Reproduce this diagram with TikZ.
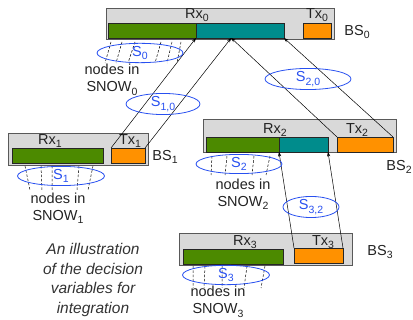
\documentclass[tikz,border=0pt]{standalone}
\usepackage{fontspec}
\setmainfont{Liberation Sans}
\usetikzlibrary{shapes.geometric,arrows.meta,calc}
\newcommand\sbs[1]{\raisebox{-0.45ex}{\fontsize{10.5}{10.5}\selectfont #1}}
\definecolor{rxgreen}{RGB}{76,138,0}
\definecolor{rxteal}{RGB}{0,140,140}
\definecolor{txorange}{RGB}{255,145,0}
\definecolor{varblue}{RGB}{40,80,240}
\definecolor{boxgrey}{RGB}{217,217,217}
\definecolor{labelgrey}{RGB}{34,34,34}
\begin{document}
\begin{tikzpicture}[x=1pt,y=-1pt,
  rect/.style={anchor=north west, inner sep=0pt, outer sep=0pt, line width=0.8pt},
  station/.style={rect, draw=black!65, fill=boxgrey},
  rxbar/.style={rect, draw=black!85, fill=rxgreen},
  rxbarb/.style={rect, draw=black!85, fill=rxteal},
  txbar/.style={rect, draw=black!85, fill=txorange},
  lbl/.style={inner sep=0pt, text=labelgrey, font=\fontsize{14.5}{14.5}\selectfont},
  var/.style={ellipse, draw=varblue, line width=0.8pt, inner sep=0pt, text=varblue,
    font=\fontsize{14.5}{14.5}\selectfont},
  snow/.style={inner sep=0pt, text=labelgrey, align=center, font=\fontsize{14.5}{17}\selectfont},
  link/.style={line width=0.5pt, -{Stealth[length=4.5pt,width=3.2pt]}},
  hatch/.style={line width=0.5pt, dash pattern=on 2.5pt off 1.8pt}
]
\useasboundingbox (0,0) rectangle (413,320);

% base station BS0
\node[station, minimum width=228, minimum height=31] (bs0) at (106,8) {};
\node[rxbar,  minimum width=88, minimum height=15] (g0) at (108,23) {};
\node[rxbarb, minimum width=88, minimum height=15] (t0) at (196,23) {};
\node[txbar,  minimum width=28, minimum height=15] (o0) at (303,23) {};
\node[lbl] (rx0) at (197,15) {Rx\sbs0};
\node[lbl] (tx0) at (317,15) {Tx\sbs0};
\node[lbl] (bsl0) at (357,32) {BS\sbs0};

% base station BS1
\node[station, minimum width=140, minimum height=32] (bs1) at (8,133) {};
\node[rxbar, minimum width=91, minimum height=15] (g1) at (12,148) {};
\node[txbar, minimum width=34, minimum height=15] (o1) at (111,148) {};
\node[lbl] (rx1) at (50,141) {Rx\sbs1};
\node[lbl] (tx1) at (130,141) {Tx\sbs1};
\node[lbl] (bsl1) at (165,157) {BS\sbs1};

% base station BS2
\node[station, minimum width=193, minimum height=33] (bs2) at (203,119) {};
\node[rxbar,  minimum width=73, minimum height=15] (g2) at (206,137) {};
\node[rxbarb, minimum width=49, minimum height=15] (t2) at (279,137) {};
\node[txbar,  minimum width=56, minimum height=15] (o2) at (337,137) {};
\node[lbl] (rx2) at (275,130) {Rx\sbs2};
\node[lbl] (tx2) at (357,130) {Tx\sbs2};
\node[lbl] (bsl2) at (399,167) {BS\sbs2};

% base station BS3
\node[station, minimum width=173, minimum height=32] (bs3) at (179,233) {};
\node[rxbar, minimum width=100, minimum height=15] (g3) at (183,249) {};
\node[txbar, minimum width=49,  minimum height=15] (o3) at (294,248) {};
\node[lbl] (rx3) at (245,242) {Rx\sbs3};
\node[lbl] (tx3) at (323,242) {Tx\sbs3};
\node[lbl] (bsl3) at (380,252) {BS\sbs3};

% links from transmitters to receivers
\coordinate (c0) at ($(t0.south west)!0.4!(t0.south east)$);
\draw[link] (o1.north west) -- (t0.south west);
\draw[link] (o1.north east) -- (c0);
\draw[link] (o2.north west) -- (c0);
\draw[link] (o2.north east) -- (t0.south east);
\draw[link] (o3.north west) -- (t2.south west);
\draw[link] (o3.north east) -- (t2.south east);

% nodes served in each SNOW
\draw[hatch] (111,42) -- (105,63) (122,42) -- (116,63) (135,42) -- (128,63)
  (161,42) -- (155,63) (172,42) -- (167,63) (181,42) -- (177,63);
\draw[hatch] (25,166) -- (30,190) (41,166) -- (42,190) (52,166) -- (52,190)
  (79,166) -- (77,190) (93,166) -- (88,190);
\draw[hatch] (212,156) -- (211,175) (227,156) -- (225,175) (254,156) -- (252,175)
  (270,156) -- (266,175);
\draw[hatch] (193,266) -- (193,288) (205,266) -- (204,288) (222,266) -- (222,288)
  (247,266) -- (244,288) (265,266) -- (261,288);

% decision variables
\node[var, minimum width=86, minimum height=19] (s0)  at (140,53)  {S\sbs0};
\node[var, minimum width=74, minimum height=18] (s10) at (163,104) {S\sbs{1,0}};
\node[var, minimum width=86, minimum height=18] (s20) at (308,79)  {S\sbs{2,0}};
\node[var, minimum width=87, minimum height=16] (s1)  at (61,176)  {S\sbs1};
\node[var, minimum width=86, minimum height=18] (s2)  at (239,164) {S\sbs2};
\node[var, minimum width=56, minimum height=20] (s32) at (311,207) {S\sbs{3,2}};
\node[var, minimum width=87, minimum height=16] (s3)  at (226,275) {S\sbs3};

\node[snow] (n0) at (112,80)  {nodes in\\SNOW\sbs0};
\node[snow] (n1) at (58,208)  {nodes in\\SNOW\sbs1};
\node[snow] (n2) at (243,194) {nodes in\\SNOW\sbs2};
\node[snow] (n3) at (218,302) {nodes in\\SNOW\sbs3};

\node[inner sep=0pt, align=center, text=black!80, font=\fontsize{15.5}{19.7}\selectfont\itshape]
  (cap) at (93,280) {An illustration\\of the decision\\variables for\\integration};
\end{tikzpicture}
\end{document}
